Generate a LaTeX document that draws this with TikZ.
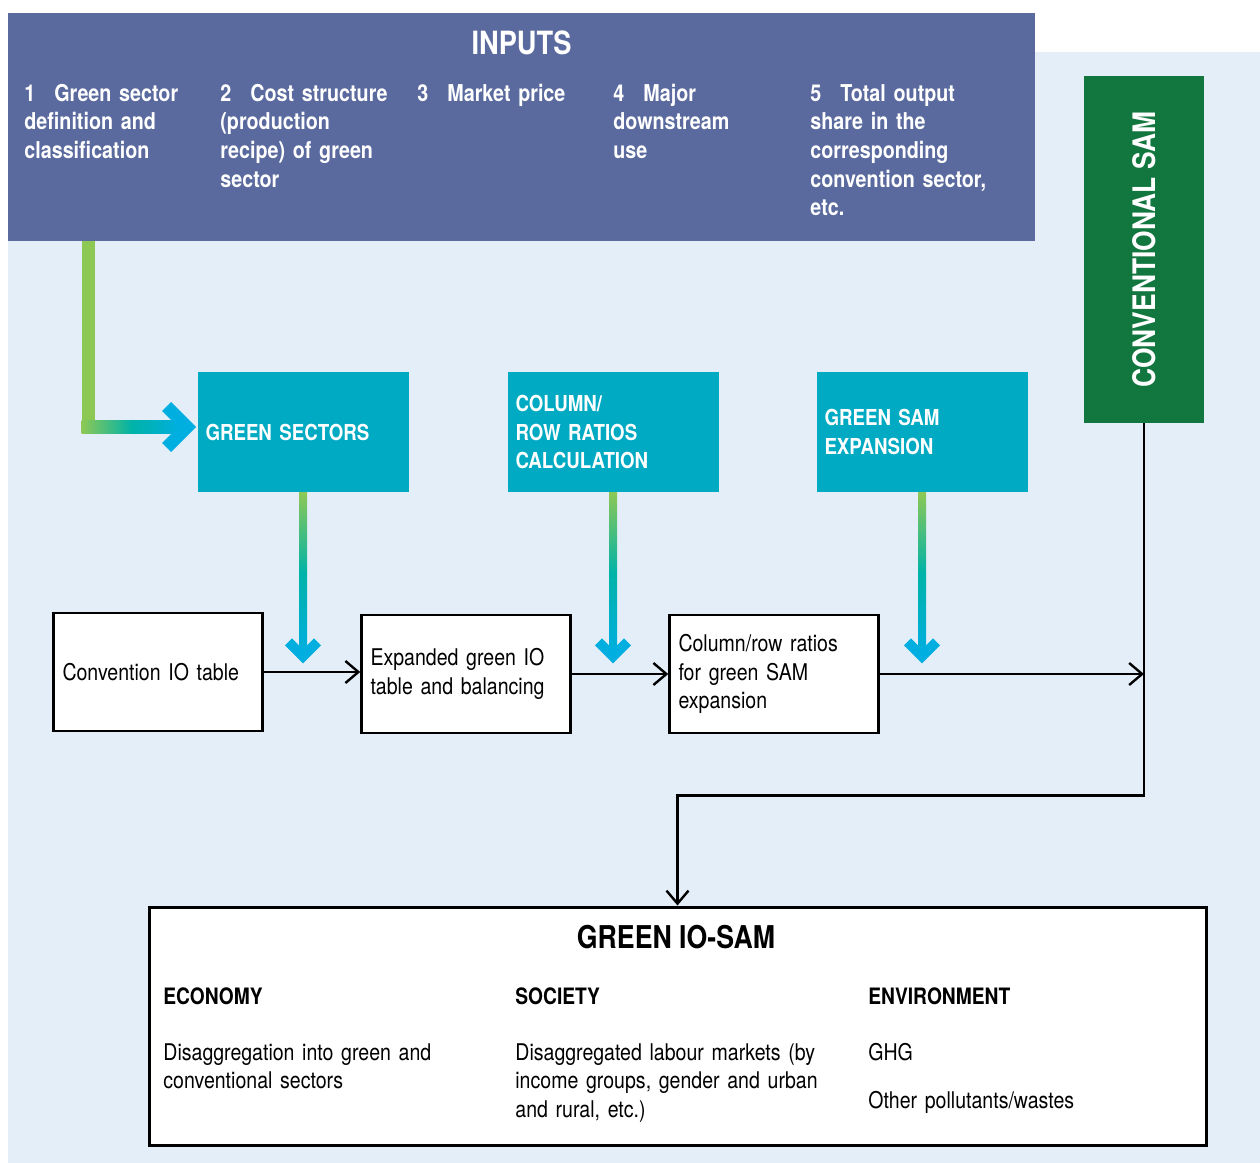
\documentclass[tikz,border=0pt]{standalone}
\usepackage{fontspec}
\setmainfont{TeX Gyre Heros}[FakeStretch=0.85]
\usetikzlibrary{arrows.meta,calc}

\definecolor{InputBlue}{HTML}{5A6A9E}
\definecolor{BackBlue}{HTML}{E3EEF8}
\definecolor{BoxTeal}{HTML}{00AAC3}
\definecolor{SamGreen}{HTML}{12773F}
\definecolor{ArrGreen}{HTML}{8DC855}
\definecolor{ArrTeal}{HTML}{00B3A8}
\definecolor{ArrCyan}{HTML}{00AEE0}

\newcommand{\inum}[1]{\makebox[15pt][l]{#1}}

\tikzset{
  initem/.style={anchor=base west, inner sep=0pt, text=white, text width=95pt, align=left,
    font=\fontsize{11.6}{14.35}\selectfont\bfseries},
  tealbox/.style={fill=BoxTeal, text=white, text width=97.5pt, inner xsep=4pt, inner ysep=0pt,
    minimum height=60pt, align=left, font=\fontsize{11}{14.35}\selectfont\bfseries},
  whitebox/.style={draw, line width=1.25pt, fill=white, text width=95.5pt, inner xsep=4.5pt,
    inner ysep=0pt, minimum height=59pt, align=left},
  colhead/.style={anchor=base west, inner sep=0pt, font=\fontsize{11.3}{14.35}\selectfont\bfseries},
  coltext/.style={anchor=base west, inner sep=0pt, text width=160pt, align=left},
  conn/.style={line width=1.2pt, -{Straight Barb[length=6.5pt, width=11pt]}}
}

\begin{document}
\begin{tikzpicture}[x=0.5pt, y=-0.5pt, every node/.style={font=\fontsize{11.5}{14.35}\selectfont}]

 \useasboundingbox (0,0) rectangle (1260,1163);
 \fill[white] (0,0) rectangle (1260,1163);
 \fill[BackBlue] (8,52) rectangle (1260,1163);

 %%%%%%%%%% INPUTS %%%%%%%%%%
 \node[fill=InputBlue, minimum width=513.5pt, minimum height=114pt, inner sep=0pt] (inputs) at (521.5,127) {};
 \node[anchor=base, text=white, font=\fontsize{16}{19}\selectfont\bfseries] (inputstitle) at (521.5,54) {INPUTS};

 \node[initem] (in1) at (24,101) {\inum{1}Green sector\\definition and\\classification};
 \node[initem] (in2) at (220,101) {\inum{2}Cost structure\\(production\\recipe) of green\\sector};
 \node[initem] (in3) at (417,101) {\inum{3}Market price};
 \node[initem] (in4) at (613,101) {\inum{4}Major\\downstream\\use};
 \node[initem] (in5) at (810,101) {\inum{5}Total output\\share in the\\corresponding\\convention sector,\\etc.};

 %%%%%%%%%% Steps %%%%%%%%%%
 \node[tealbox] (gs) at (303,432) {GREEN SECTORS};
 \node[tealbox] (crr) at (613,432) {COLUMN/\\ROW RATIOS\\CALCULATION};
 \node[tealbox] (gse) at (922,432) {GREEN SAM\\EXPANSION};

 \node[fill=SamGreen, text=white, minimum width=60pt, minimum height=173.5pt, inner sep=0pt,
   font=\fontsize{15.5}{18}\selectfont\bfseries] (convsam) at (1144,249.5) {\rotatebox{90}{CONVENTIONAL SAM}};

 % Tables
 \node[whitebox] (conv) at (158,672) {Convention IO table};
 \node[whitebox] (exp) at (466,674) {Expanded green IO\\table and balancing};
 \node[whitebox] (col) at (774,674) {Column/row ratios\\for green SAM\\expansion};

 %%%%%%%%%% GREEN IO-SAM %%%%%%%%%%
 \node[draw, line width=1.5pt, fill=white, minimum width=528.5pt, minimum height=119pt, inner sep=0pt] (gsam) at (677.5,1026) {};
 \node[anchor=base, font=\fontsize{15.7}{19}\selectfont\bfseries] (gsamtitle) at (676,948) {GREEN IO-SAM};

 \node[colhead] (eco) at (163,1004) {ECONOMY};
 \node[colhead] (soc) at (515,1004) {SOCIETY};
 \node[colhead] (env) at (868,1004) {ENVIRONMENT};

 \node[coltext] (ecotxt) at (163,1060) {Disaggregation into green and\\conventional sectors};
 \node[coltext] (soctxt) at (515,1060) {Disaggregated labour markets (by\\income groups, gender and urban\\and rural, etc.)};
 \node[coltext] (envghg) at (868,1060) {GHG};
 \node[coltext] (envpol) at (868,1108) {Other pollutants/wastes};

 %%%%%%%%%% Green arrows %%%%%%%%%%
 \coordinate (ltip) at ($(gs.west)+(-1,-5)$);
 \coordinate (lcorner) at ($(inputs.south west)+(80.5,186)$);
 \fill[ArrGreen] ($(inputs.south west)+(74,0)$) rectangle ($(lcorner)+(6.5,6.5)$);
 \shade[left color=ArrGreen, right color=ArrCyan, middle color=ArrTeal] ($(lcorner)+(-6.5,-6.5)$) rectangle ($(ltip)+(-14,6.5)$);
 \fill[ArrCyan] (ltip) -- ++(-25,25) -- ++(-9,-9) -- ++(16,-16) -- ++(-16,-16) -- ++(9,-9) -- cycle;

 \foreach \b in {gs,crr,gse} {
   \shade[top color=ArrGreen, bottom color=ArrCyan, middle color=ArrTeal] ($(\b.south)+(-4,0)$) rectangle ($(\b.south)+(4,162)$);
   \fill[ArrCyan] ($(\b.south)+(0,171)$) -- ++(18,-18) -- ++(-7,-7) -- ++(-11,11) -- ++(-11,-11) -- ++(-7,7) -- cycle;
 }

 %%%%%%%%%% Connectors %%%%%%%%%%
 \draw[conn] (conv.east) -- (conv.east -| exp.west);
 \draw[conn] (exp.east) -- (col.west);
 \draw[conn] (col.east) -- (col.east -| convsam.south);
 \draw[conn] (convsam.south) -- ++(0,372) -| (gsam.north);

\end{tikzpicture}
\end{document}
